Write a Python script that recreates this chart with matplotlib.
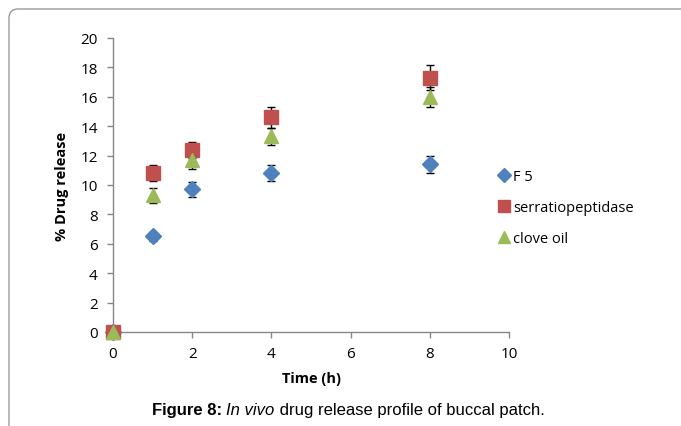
import matplotlib
matplotlib.use("Agg")
import matplotlib.pyplot as plt
from matplotlib.path import Path
from matplotlib.patches import PathPatch
from matplotlib.lines import Line2D
from matplotlib.transforms import IdentityTransform

# data
time_h = [0, 1, 2, 4, 8]
f5 = [0, 6.5, 9.7, 10.8, 11.4]
f5_err = [0, 0.3, 0.5, 0.55, 0.57]
serratio = [0, 10.8, 12.4, 14.6, 17.3]
serratio_err = [0, 0.55, 0.55, 0.7, 0.85]
clove = [0, 9.3, 11.7, 13.3, 16.0]
clove_err = [0, 0.5, 0.6, 0.6, 0.7]

W, H = 681, 427
fig = plt.figure(figsize=(W / 100, H / 100), dpi=100)
ax = fig.add_axes([113 / W, 1 - 333 / H, 396 / W, 294 / H])

grey = "#868686"
series = [
    ("F 5", f5, f5_err, "D", "#4F81BD", 8.5),
    ("serratiopeptidase", serratio, serratio_err, "s", "#C0504D", 10),
    ("clove oil", clove, clove_err, "^", "#9BBB59", 10.5),
]
handles = []
for name, vals, err, mk, col, ms in series:
    ax.errorbar(time_h, vals, yerr=err, fmt=mk, color=col, ms=ms, mec=col,
                ecolor="black", elinewidth=1, capsize=3, capthick=1,
                clip_on=False, zorder=3)
    handles.append(Line2D([], [], ls="none", marker=mk, color=col, mec=col,
                          ms=ms * 0.8, label=name))

ax.set_xlim(0, 10)
ax.set_ylim(0, 20)
ax.set_xticks(range(0, 11, 2))
ax.set_yticks(range(0, 21, 2))
for s in ["top", "right"]:
    ax.spines[s].set_visible(False)
for s in ["left", "bottom"]:
    ax.spines[s].set_color(grey)
    ax.spines[s].set_linewidth(1)
ax.tick_params(colors=grey, labelcolor="black", labelsize=11, length=4, width=1)
ax.tick_params(axis="y", pad=7)
ax.tick_params(axis="x", pad=6)
for lab in ax.get_xticklabels() + ax.get_yticklabels():
    lab.set_family("Open Sans")
ax.set_xlabel("Time (h)", fontsize=10.5, fontweight="bold", family="Open Sans", labelpad=7)
ax.set_ylabel("% Drug release", fontsize=10.5, fontweight="bold", family="Open Sans", labelpad=8)

ax.legend(handles=handles, loc="upper left", bbox_to_anchor=(499 / W, 1 - 170 / H),
          bbox_transform=fig.transFigure, frameon=False, handlelength=0.7,
          handletextpad=0.25, labelspacing=1.1, borderpad=0, borderaxespad=0,
          prop={"family": "Open Sans", "size": 10.5})

# rounded outer frame (top and left only)
r = 9
verts = [(W + 5, H - 10), (18, H - 10), (9, H - 10), (9, H - 10 - r), (9, -5)]
codes = [Path.MOVETO, Path.LINETO, Path.CURVE3, Path.CURVE3, Path.LINETO]
fig.patches.append(PathPatch(Path(verts, codes), transform=IdentityTransform(),
                             fill=False, edgecolor="#9a9a9a", lw=1))

# caption in pieces: bold, italic, regular
fig.canvas.draw()
rend = fig.canvas.get_renderer()
pieces = [("Figure 8: ", "bold", "normal"), ("In vivo", "normal", "italic"),
          (" drug release profile of buccal patch.", "normal", "normal")]
texts = []
for txt, w, st in pieces:
    t = fig.text(0, 1 - 411 / H, txt, fontsize=12, fontweight=w, style=st,
                 family="Liberation Sans", va="center", ha="left")
    texts.append(t)
widths = [t.get_window_extent(rend).width for t in texts]
x0 = 348 - sum(widths) / 2
for t, wd in zip(texts, widths):
    t.set_x(x0 / W)
    x0 += wd

fig.savefig("out.png", dpi=100)
